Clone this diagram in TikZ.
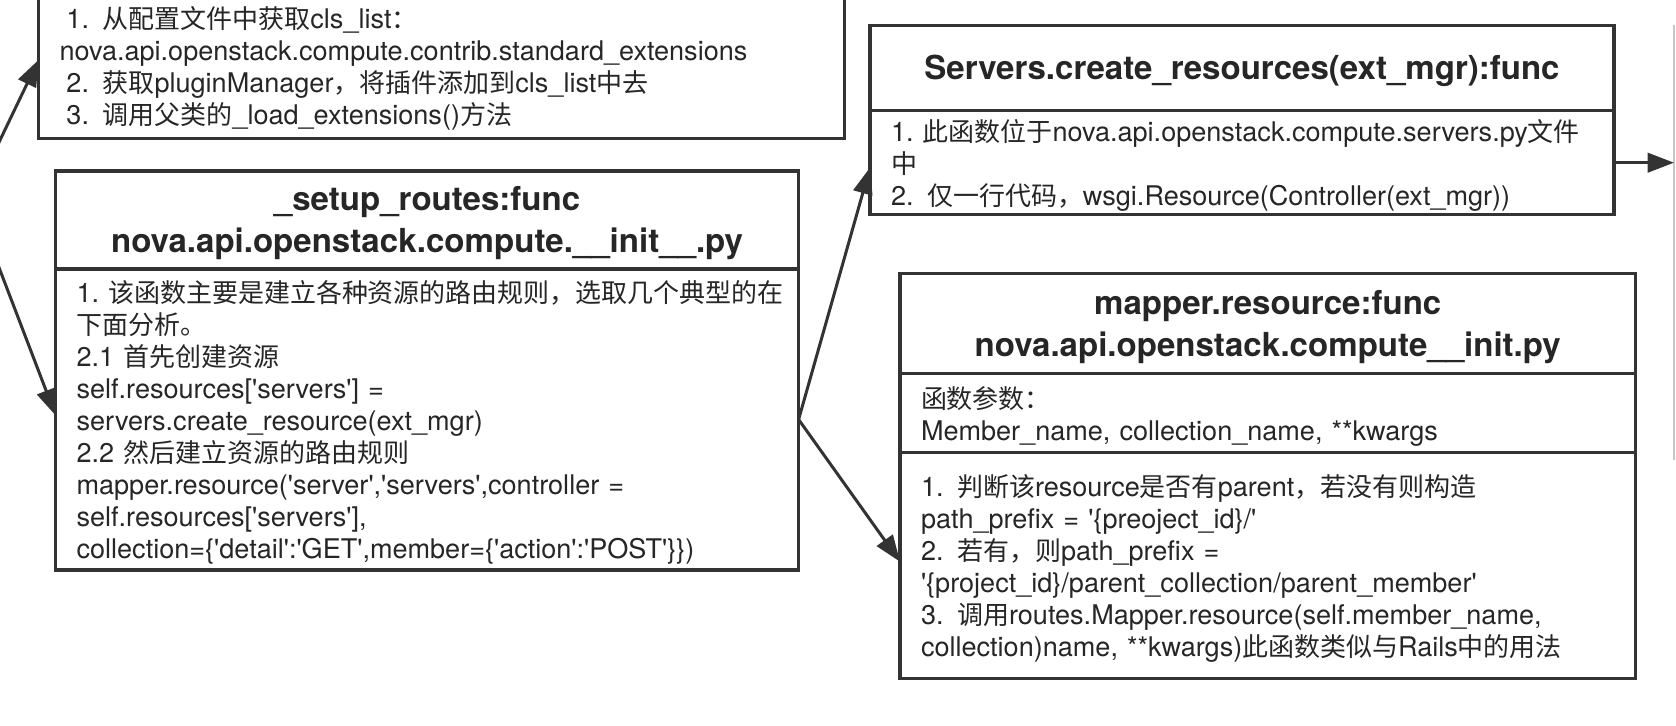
\documentclass[tikz,border=0pt]{standalone}
\usepackage{fontspec}
\setmainfont{TeX Gyre Heros}[Ligatures=TeXOff]
\newfontfamily\cjk{Noto Sans CJK SC}[Scale=0.96]
\usepackage{xcolor}
\usepackage{tikz}
\usetikzlibrary{positioning}
\usetikzlibrary{arrows.meta}
\newlength\pxu
\setlength\pxu{0.2mm}
\newcommand\zh[1]{{\cjk #1}}
\definecolor{linegray}{HTML}{333333}
\definecolor{textgray}{HTML}{262626}

\begin{document}
\begin{tikzpicture}[
	x=1\pxu, y=-1\pxu,
	line width=3.4\pxu,
	text=textgray,
	font=\fontsize{15.4pt}{18.2pt}\selectfont
]
\tikzset{
    headbox/.style = {rectangle, draw=linegray, outer sep=0pt, inner sep=0pt, align=center, text height=17.4pt, font=\fontsize{18.8pt}{24.2pt}\selectfont\bfseries},
    textbox/.style = {rectangle, draw=linegray, outer sep=0pt, inner xsep=21\pxu, inner ysep=0pt, align=left, text height=16pt},
    link/.style = {draw=linegray, line width=3\pxu, -{Triangle[length=15pt,width=11pt]}}
}
\useasboundingbox[fill=white] (0,0) rectangle (1676,726);
\node[textbox,text width=764\pxu,minimum height=146\pxu,anchor=north west] (extbody) at (38.5,-7.6) {
\hspace*{7\pxu}1. \zh{从配置文件中获取}cls\_list\zh{：}\\
nova.api.openstack.compute.contrib.standard\_extensions\\
\hspace*{7\pxu}2. \zh{获取}pluginManager\zh{，将插件添加到}cls\_list\zh{中去}\\
\hspace*{7\pxu}3. \zh{调用父类的}\_load\_extensions()\zh{方法}};
\node[headbox,text width=743\pxu,minimum height=98\pxu,anchor=north west] (settitle) at (55.6,171) {\_setup\_routes:func\\nova.api.openstack.compute.\_\_init\_\_.py};
\node[textbox,text width=701\pxu,minimum height=301\pxu,below=0pt of settitle] (setbody) {
1.~\zh{该函数主要是建立各种资源的路由规则，选取几个典型的在}\\
\zh{下面分析。}\\
2.1 \zh{首先创建资源}\\
self.resources['servers'] =\\
servers.create\_resource(ext\_mgr)\\
2.2 \zh{然后建立资源的路由规则}\\
mapper.resource('server','servers',controller =\\
self.resources['servers'],\\
collection=\{'detail':'GET',member=\{'action':'POST'\}\})};
\node[headbox,text width=744\pxu,minimum height=85\pxu,anchor=north west] (srvtitle) at (870,25.7) {Servers.create\_resources(ext\_mgr):func};
\node[textbox,text width=702\pxu,minimum height=104\pxu,below=0pt of srvtitle] (srvbody) {
1.~\zh{此函数位于}nova.api.openstack.compute.servers.py\zh{文件}\\
\zh{中}\\
2. \zh{仅一行代码，}wsgi.Resource(Controller(ext\_mgr))};
\node[headbox,text width=735.5\pxu,minimum height=100\pxu,anchor=north west] (maptitle) at (900,273.7) {mapper.resource:func\\nova.api.openstack.compute\_\_init.py};
\node[textbox,text width=693.5\pxu,minimum height=79\pxu,below=0pt of maptitle] (mapargs) {
\zh{函数参数：}\\
Member\_name, collection\_name, **kwargs};
\node[textbox,text width=693.5\pxu,minimum height=226\pxu,below=0pt of mapargs] (mapbody) {
1. \zh{判断该}resource\zh{是否有}parent\zh{，若没有则构造}\\
path\_prefix = '\{preoject\_id\}/'\\
2. \zh{若有，则}path\_prefix =\\
'\{project\_id\}/parent\_collection/parent\_member'\\
3. \zh{调用}routes.Mapper.resource(self.member\_name,\\
collection)name,~**kwargs)\zh{此函数类似与}Rails\zh{中的用法}};
\coordinate (from1) at (-10,161);
\coordinate (from2) at (-10,244);
\coordinate (nexttop) at (1674,25);
\coordinate (nextbot) at (1674,460);
\draw[gray!45,line width=1.2\pxu] (nexttop) -- (nextbot);
\draw[link] (from1) -- ([yshift=3.1pt]extbody.west);
\draw[link] (from2) -- ([yshift=2.3pt]setbody.west);
\draw[link] (setbody.east) -- ([yshift=-2.8pt]srvbody.west);
\draw[link] (setbody.east) -- ([yshift=2.3pt]mapbody.west);
\draw[link] (srvbody.east) -- (srvbody.east -| nexttop);
\end{tikzpicture}
\end{document}
